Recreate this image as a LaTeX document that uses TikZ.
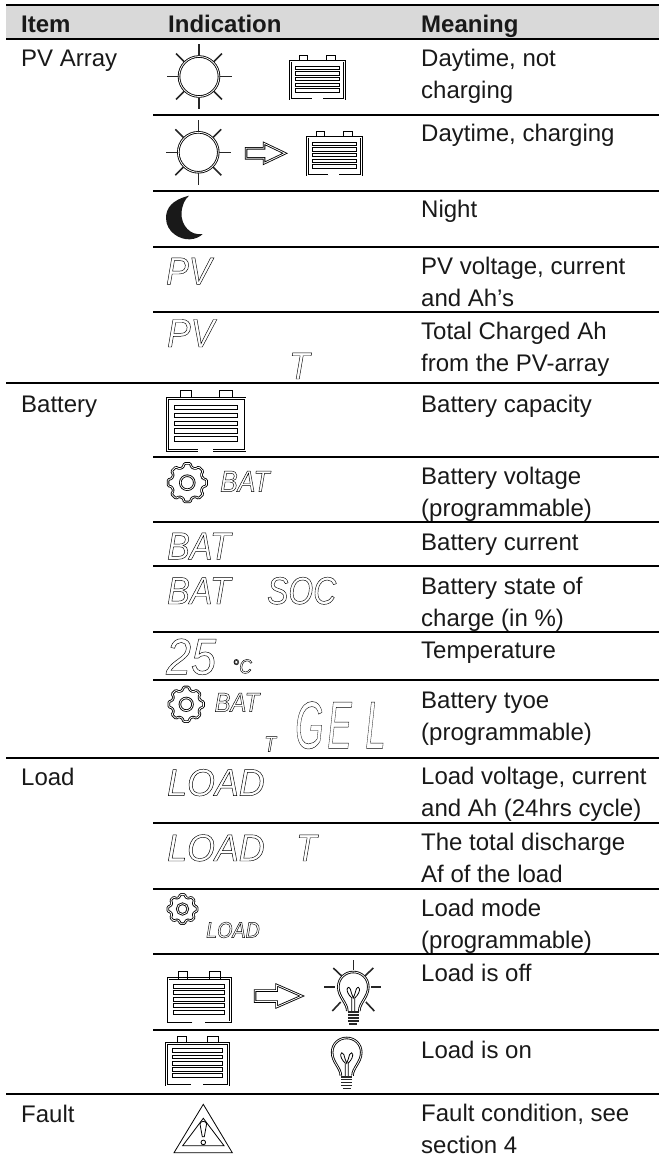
\documentclass[tikz,border=0pt]{standalone}
\usepackage{fontspec}
\setmainfont{Liberation Sans}
\newfontfamily\lcdfont[FakeStretch=.88]{Liberation Sans Italic}
\newcommand{\lcdtext}[2]{{\lcdfont\fontsize{#1}{#1}\selectfont\special{pdf:code 1 Tr .45 w}#2\special{pdf:code 0 Tr}}}
\tikzset{
	cell/.style={anchor=base west, inner sep=0pt, align=left, font=\fontsize{24}{32}\selectfont, text=black!90},
	lcd/.style={anchor=base west, inner sep=0pt},
	rulethin/.style={line width=2pt},
	hollow/.style={double=white, double distance=.8pt, line width=.85pt},
	thinline/.style={line width=.8pt},
	ray/.style={line width=1.6pt, black!85},
	battery/.pic={
		\draw [hollow] (21, 44) -- (0, 44) -- (0, 6) -- (54, 6) -- (54, 44) -- (32, 44);
		\draw [thinline] (9, 6) -- (9, 0) -- (17, 0) -- (17, 6);
		\draw [thinline] (36, 6) -- (36, 0) -- (45, 0) -- (45, 6);
		\foreach \y in {0, ..., 4}
			\draw [thinline] (5, 11 + \y * 5.7) rectangle (49, 14.3 + \y * 5.7);
	},
	sunicon/.pic={
		\draw [hollow] (0, 0) circle (20);
		\foreach \a in {0, 45, ..., 315}
			\draw [ray] (\a:21) -- (\a:32.5);
	},
	arrowicon/.pic={
		\draw [hollow] (0, -5) -- (18, -5) -- (18, -10) -- (39, 0) -- (18, 10) -- (18, 5) -- (0, 5) -- cycle;
	},
	gear/.pic={
		\draw [hollow, rounded corners=1pt] (-15:16) \foreach \a in {0, 45, ..., 315} { -- (\a - 9:19.5) -- (\a + 9:19.5) -- (\a + 15:16) -- (\a + 30:16) } -- cycle;
		\draw [hollow] (0, 0) circle (7);
	},
	bulb/.pic={
		\draw [hollow] (-6, 24) .. controls (-6, 16) and (-15, 10) .. (-15, 0) .. controls (-15, -9) and (-8, -15) .. (0, -15) .. controls (8, -15) and (15, -9) .. (15, 0) .. controls (15, 10) and (6, 16) .. (6, 24);
		\draw [thinline] (-1.5, 24) -- (-1.5, 11) .. controls (-9, 4) and (-6, -3) .. (-3, 2) .. controls (-2, 5) and (-1.5, 8) .. (0, 11) .. controls (1.5, 8) and (2, 5) .. (3, 2) .. controls (6, -3) and (9, 4) .. (1.5, 11) -- (1.5, 24);
		\foreach \y in {25, 28, 31, 34}
			\draw [ray] (-5.5, \y) -- (5.5, \y);
		\draw [ray] (-4, 37) -- (4, 37);
	},
	bulbrays/.pic={
		\draw [ray] (-29, 0) -- (-18, 0);
		\draw [ray] (18, 0) -- (28, 0);
		\draw [ray] (0, -27) -- (0, -17);
		\draw [ray] (-20, -19) -- (-11.6, -11);
		\draw [ray] (20, -19) -- (11.6, -11);
		\draw [ray] (-21, 24) -- (-12.6, 15);
		\draw [ray] (21, 24) -- (12.6, 15);
	}
}
\begin{document}
\begin{tikzpicture}[x=1pt, y=-1pt]
	\useasboundingbox (0, 0) rectangle (659, 1160);
	\fill [black!15] (6, 5) rectangle (659, 38);
	\foreach \y in {5, 38.5, 383.3, 757.7, 1093.7}
		\draw [rulethin] (6, \y) -- (659, \y);
	\foreach \y in {115, 190.7, 246.7, 311.7, 456.7, 521.7, 565.7, 631.7, 680, 822.7, 888.7, 953.7, 1030}
		\draw [rulethin] (153, \y) -- (659, \y);

	\node [cell] (headitem) at (21, 32.7) {\bfseries Item};
	\node [cell] (headind) at (168, 32.7) {\bfseries Indication};
	\node [cell] (headmean) at (421, 32.7) {\bfseries Meaning};
	\node [cell] (itempv) at (21, 66) {PV Array};
	\node [cell] (itembat) at (21, 412.7) {Battery};
	\node [cell] (itemload) at (21, 785) {Load};
	\node [cell] (itemfault) at (21, 1122) {Fault};

	\node [cell] (mean1) at (421, 98.5) {Daytime, not\\charging};
	\node [cell] (mean2) at (421, 141.7) {Daytime, charging};
	\node [cell] (mean3) at (421, 217.7) {Night};
	\node [cell] (mean4) at (421, 306) {PV voltage, current\\and Ah’s};
	\node [cell] (mean5) at (421, 371.7) {Total Charged Ah\\from the PV-array};
	\node [cell] (mean6) at (421, 412.7) {Battery capacity};
	\node [cell] (mean7) at (421, 516) {Battery voltage\\(programmable)};
	\node [cell] (mean8) at (421, 550) {Battery current};
	\node [cell] (mean9) at (421, 626) {Battery state of\\charge (in \%)};
	\node [cell] (mean10) at (421, 658.7) {Temperature};
	\node [cell] (mean11) at (421, 740) {Battery tyoe\\(programmable)};
	\node [cell] (mean12) at (421, 816.7) {Load voltage, current\\and Ah (24hrs cycle)};
	\node [cell] (mean13) at (421, 882.7) {The total discharge\\Af of the load};
	\node [cell] (mean14) at (421, 948.3) {Load mode\\(programmable)};
	\node [cell] (mean15) at (421, 981) {Load is off};
	\node [cell] (mean16) at (421, 1058.3) {Load is on};
	\node [cell] (mean17) at (421, 1153.3) {Fault condition, see\\section 4};

	\pic at (199, 76.5) {sunicon};
	\pic at (290.7, 55) {battery};
	\pic at (198.3, 152.3) {sunicon};
	\pic at (246, 153.3) {arrowicon};
	\pic at (307.3, 131) {battery};
	\fill [black!90] (189, 195.7) .. controls (172, 200) and (166, 208) .. (166, 218) .. controls (166, 232) and (180, 240) .. (190, 239.3) .. controls (195, 239) and (200, 237) .. (202.7, 234) .. controls (190, 236) and (181, 225) .. (181.5, 213) .. controls (182, 205) and (185, 199) .. (189, 195.7) -- cycle;

	\node [lcd] (lcdpv1) at (166, 284.3) {\lcdtext{38.5}{PV}};
	\node [lcd] (lcdpv2) at (167, 347) {\lcdtext{40}{PV}};
	\node [lcd] (lcdt1) at (289, 379) {\lcdtext{38}{T}};

	\pic [xscale=1.44, yscale=1.38] at (167.3, 390) {battery};
	\pic at (187.3, 482.7) {gear};
	\node [lcd] (lcdbat1) at (220, 491.7) {\lcdtext{30}{BAT}};
	\node [lcd] (lcdbat2) at (167, 559.3) {\lcdtext{38.5}{BAT}};
	\node [lcd] (lcdbat3) at (167, 604) {\lcdtext{38.5}{BAT}};
	\node [lcd] (lcdsoc) at (267, 604) {\scalebox{.94}[1]{\lcdtext{38.5}{SOC}}};
	\node [lcd] (lcdtemp) at (166, 674.3) {\lcdtext{51}{25}};
	\node [lcd] (lcddeg) at (232, 673.3) {\lcdtext{20}{°C}};
	\pic [scale=.9] at (186.2, 704.3) {gear};
	\node [lcd] (lcdbat4) at (214.5, 711.7) {\lcdtext{27}{BAT}};
	\node [lcd] (lcdt2) at (264, 751.7) {\lcdtext{22}{T}};
	\node [lcd] (lcdgel) at (295, 748.3) {\scalebox{.62}[1]{\lcdtext{67}{G\kern6ptE\kern22ptL}}};

	\node [lcd] (lcdload1) at (167, 795.7) {\scalebox{1.07}[1]{\lcdtext{38}{LOAD}}};
	\node [lcd] (lcdload2) at (167, 861) {\scalebox{1.07}[1]{\lcdtext{38}{LOAD}}};
	\node [lcd] (lcdt3) at (296, 861) {\lcdtext{38}{T}};
	\pic [scale=.76] at (182.5, 909) {gear};
	\node [lcd] (lcdload3) at (206, 937.7) {\lcdtext{22.4}{LOAD}};

	\pic [xscale=1.16, yscale=1.14] at (168, 971.7) {battery};
	\pic [xscale=1.2, yscale=1.1] at (255, 996) {arrowicon};
	\pic at (353.3, 987) {bulb};
	\pic at (353.3, 987) {bulbrays};
	\pic [xscale=1.14, yscale=1.1] at (166.7, 1036.7) {battery};
	\pic [scale=.97] at (346.7, 1052.5) {bulb};

	\draw [thinline] (203.3, 1104.3) -- (232.3, 1152.7) -- (174, 1152.7) -- cycle;
	\draw [thinline] (203.3, 1118.3) -- (224, 1145.7) -- (182.7, 1145.7) -- cycle;
	\draw [thinline] (200, 1124) .. controls (200, 1120.5) and (206.6, 1120.5) .. (206.6, 1124) -- (204.3, 1136.7) -- (202.3, 1136.7) -- cycle;
	\draw [thinline] (203.3, 1142.4) circle (2.3);
\end{tikzpicture}
\end{document}
